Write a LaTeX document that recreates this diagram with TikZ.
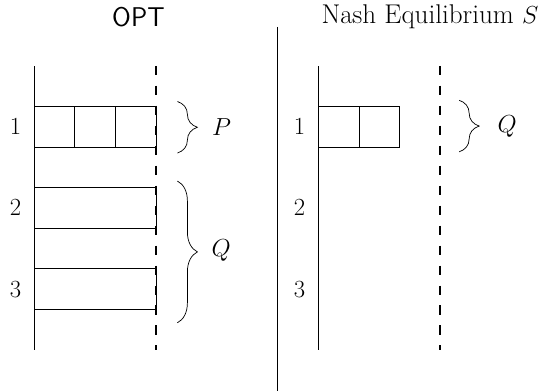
\documentclass[tikz,border=0pt]{standalone}
\usepackage{amsmath}
\usepackage{amssymb}
\usepackage{tikz}
\usetikzlibrary{positioning}
\usetikzlibrary{decorations.pathreplacing}

\begin{document}
\begin{tikzpicture}[
	  every node/.style = {font=\fontsize{19}{23}\selectfont},
	  cell/.style = {draw, line width=0.5pt, minimum width=1cm, minimum height=1cm, inner sep=0pt, outer sep=0pt},
	  longcell/.style = {cell, minimum width=3cm},
	  machine/.style = {draw, line width=0.5pt},
	  bound/.style = {draw, line width=1.3pt, dash pattern=on 6.5pt off 7.5pt},
	  curly/.style = {draw, line width=0.5pt, decorate, decoration={brace, amplitude=14pt}}
	]
	  \useasboundingbox (-0.84,-1.01) rectangle (12.56,8.62);

	  % OPT
	  \node (opt) at (2.57,8.2) {\textsf{OPT}};
	  \draw[machine] (0,0) -- (0,7);
	  \node[cell, anchor=south west] (p1) at (0,5) {};
	  \node[cell, right=0pt of p1] (p2) {};
	  \node[cell, right=0pt of p2] (p3) {};
	  \node[longcell, anchor=south west] (q2) at (0,3) {};
	  \node[longcell, anchor=south west] (q3) at (0,1) {};
	  \draw[bound] (3,7) -- (3,0);
	  \foreach \i/\y in {1/5.5, 2/3.5, 3/1.5}
		\node (opt\i) at (-0.46,\y) {$\i$};
	  \draw[curly] (3.53,6.12) -- (3.53,4.85);
	  \node (P) at (4.62,5.5) {$P$};
	  \draw[curly] (3.53,4.16) -- (3.53,0.67);
	  \node (Q) at (4.61,2.45) {$Q$};

	  % separator
	  \draw[machine] (6,7.96) -- (6,-1.01);

	  % Nash equilibrium
	  \node (nash) at (9.75,8.2) {Nash Equilibrium $S$};
	  \draw[machine] (7,0) -- (7,7);
	  \node[cell, anchor=south west] (s1) at (7,5) {};
	  \node[cell, right=0pt of s1] (s2) {};
	  \draw[bound] (10,7) -- (10,0);
	  \foreach \i/\y in {1/5.5, 2/3.5, 3/1.5}
		\node (nash\i) at (6.54,\y) {$\i$};
	  \draw[curly] (10.47,6.15) -- (10.47,4.88);
	  \node (Qs) at (11.65,5.5) {$Q$};
\end{tikzpicture}
\end{document}
